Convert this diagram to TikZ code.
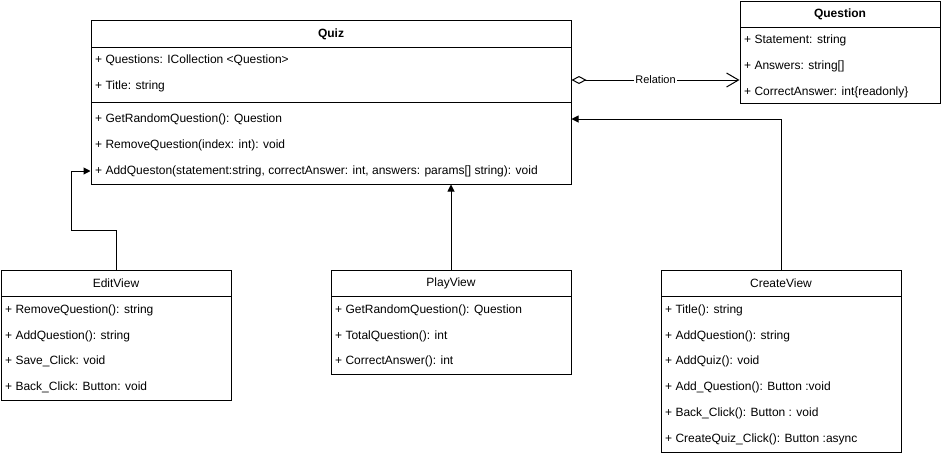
\documentclass[tikz,border=0pt]{standalone}
\usepackage{fontspec}
\setmainfont{Liberation Sans}
\usetikzlibrary{arrows.meta}

\begin{document}
\begin{tikzpicture}[x=1pt, y=-1pt, > = stealth,
    classbox/.style={draw, line width=1pt, inner sep=0pt},
    member/.style={anchor=west, inner sep=0pt, font=\fontsize{12}{14}\selectfont, text height=8.6pt, text depth=2.4pt},
    classname/.style={inner sep=0pt, font=\fontsize{12}{14}\selectfont},
    inherit/.style={-{Triangle[length=7pt,width=7pt]}, line width=1pt}]
    \useasboundingbox (0,0) rectangle (941,456);
    % Quiz
    \node[classbox, minimum width=480pt, minimum height=164pt] (quiz) at (331,102) {};
    \node[classname, font=\fontsize{12}{14}\selectfont\bfseries] (quiz-name) at (331,34) {Quiz};
    \draw[line width=1pt] (91,47) -- (571,47);
    \draw[line width=1pt] (91,102) -- (571,102);
    \node[member] (q-questions) at (95,60) {+ Questions: ICollection <Question>};
    \node[member] (q-title) at (95,86) {+ Title: string};
    \node[member] (q-random) at (95,119) {+ GetRandomQuestion(): Question};
    \node[member] (q-remove) at (95,145) {+ RemoveQuestion(index: int): void};
    \node[member] (q-add) at (95,171) {+ AddQueston(statement:string, correctAnswer: int, answers: params[] string): void};
    % Question
    \node[classbox, minimum width=200pt, minimum height=102pt] (question) at (840,52) {};
    \node[classname, font=\fontsize{12}{14}\selectfont\bfseries] (question-name) at (840,14) {Question};
    \draw[line width=1pt] (740,27) -- (940,27);
    \node[member] (qn-statement) at (744,40) {+ Statement: string};
    \node[member] (qn-answers) at (744,66) {+ Answers: string[]};
    \node[member] (qn-correct) at (744,92) {+ CorrectAnswer: int\{readonly\}};
    % EditView
    \node[classbox, minimum width=230pt, minimum height=130pt] (edit) at (116,335) {};
    \node[classname] (edit-name) at (116,283) {EditView};
    \draw[line width=1pt] (1,296) -- (231,296);
    \node[member] (e-remove) at (5,310) {+ RemoveQuestion(): string};
    \node[member] (e-add) at (5,336) {+ AddQuestion(): string};
    \node[member] (e-save) at (5,361) {+ Save\_Click: void};
    \node[member] (e-back) at (5,387) {+ Back\_Click: Button: void};
    % PlayView
    \node[classbox, minimum width=240pt, minimum height=104pt] (play) at (451,322) {};
    \node[classname] (play-name) at (451,283) {PlayView};
    \draw[line width=1pt] (331,296) -- (571,296);
    \node[member] (p-random) at (335,310) {+ GetRandomQuestion(): Question};
    \node[member] (p-total) at (335,336) {+ TotalQuestion(): int};
    \node[member] (p-correct) at (335,361) {+ CorrectAnswer(): int};
    % CreateView
    \node[classbox, minimum width=240pt, minimum height=182pt] (create) at (781,361) {};
    \node[classname] (create-name) at (781,283) {CreateView};
    \draw[line width=1pt] (661,296) -- (901,296);
    \node[member] (c-title) at (665,310) {+ Title(): string};
    \node[member] (c-addq) at (665,336) {+ AddQuestion(): string};
    \node[member] (c-addquiz) at (665,361) {+ AddQuiz(): void};
    \node[member] (c-addbtn) at (665,387) {+ Add\_Question(): Button :void};
    \node[member] (c-back) at (665,413) {+ Back\_Click(): Button : void};
    \node[member] (c-create) at (665,439) {+ CreateQuiz\_Click(): Button :async};
    % connectors
    \coordinate (relstart) at ([yshift=22pt]quiz.east);
    \draw[{Diamond[open,length=15pt,width=8pt]}-{Straight Barb[length=12pt,width=14pt]}, line width=1pt]
        (relstart) -- node[fill=white, inner sep=1pt, font=\fontsize{11}{13}\selectfont] (rel-label) {Relation} (relstart -| question.west);
    \coordinate (editbend) at (71,230);
    \draw[inherit] (edit.north) |- (editbend) |- (quiz.west |- q-add);
    \draw[inherit] (play.north) -- (play.north |- quiz.south);
    \draw[inherit] (create.north) |- (quiz.east |- q-random);
\end{tikzpicture}
\end{document}
